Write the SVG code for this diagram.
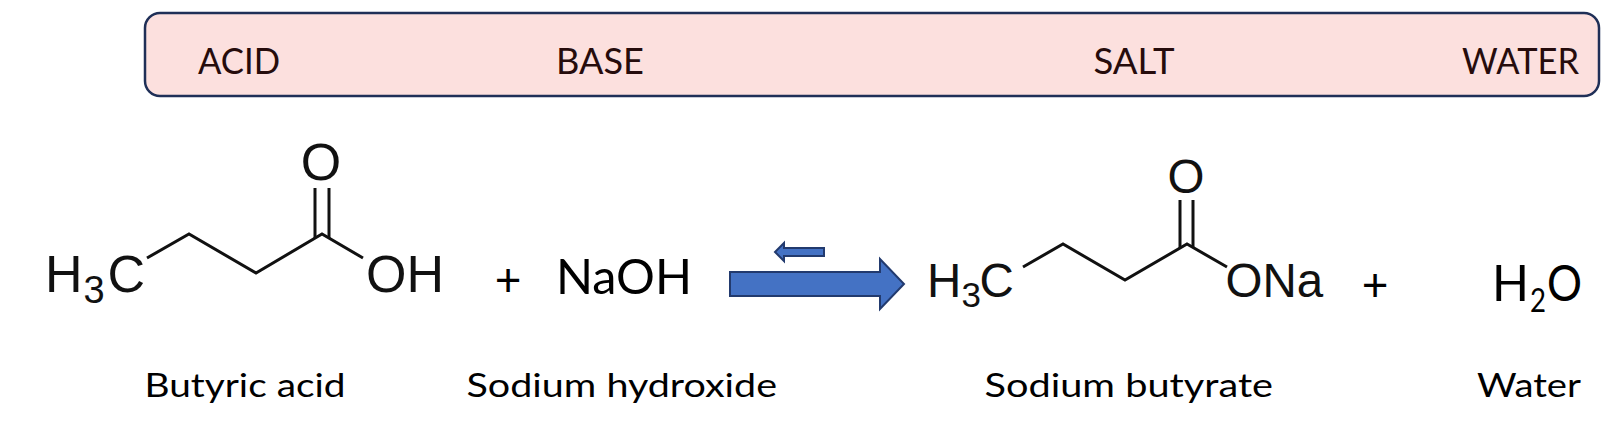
<svg xmlns="http://www.w3.org/2000/svg" width="1610" height="424" viewBox="0 0 1610 424">
  <style>
    .hdr { font-family: Lato, "Open Sans", sans-serif; font-size: 37.5px; fill: #260c0c; }
    .lbl { font-family: Lato, "Open Sans", sans-serif; font-size: 33.5px; fill: #000; }
    .cal { font-family: Lato, "Open Sans", sans-serif; fill: #000; }
    .chem { font-family: "Liberation Sans", Arial, sans-serif; fill: #111; }
    .bond { fill: none; stroke: #111; stroke-width: 3; stroke-linejoin: miter; stroke-linecap: butt; }
    .arrow { fill: #4472C4; stroke: #223a6e; stroke-width: 2; stroke-linejoin: miter; }
  </style>
  <rect width="1610" height="424" fill="#ffffff"/>

  <g id="header">
    <rect x="145" y="13" width="1454" height="83" rx="15" ry="15" fill="#FCE0DE" stroke="#1F2F57" stroke-width="2.5"/>
    <text class="hdr" x="198" y="74" textLength="82" lengthAdjust="spacingAndGlyphs">ACID</text>
    <text class="hdr" x="556" y="74" textLength="88" lengthAdjust="spacingAndGlyphs">BASE</text>
    <text class="hdr" x="1093.5" y="74" textLength="81" lengthAdjust="spacingAndGlyphs">SALT</text>
    <text class="hdr" x="1462" y="74" textLength="117" lengthAdjust="spacingAndGlyphs">WATER</text>
  </g>

  <g id="butyric-acid">
    <polyline class="bond" points="147,258 189,234 256,273 322,234 363,258"/>
    <line class="bond" x1="315" y1="188" x2="315" y2="238"/>
    <line class="bond" x1="329" y1="188" x2="329" y2="238"/>
    <text class="chem" x="45" y="292" font-size="52">H</text>
    <text class="chem" x="83.5" y="303" font-size="38">3</text>
    <text class="chem" x="107.5" y="292" font-size="52">C</text>
    <text class="chem" x="321" y="180" font-size="52" text-anchor="middle">O</text>
    <text class="chem" x="366" y="292" font-size="52">OH</text>
    <text class="lbl" x="144.5" y="397" textLength="201" lengthAdjust="spacingAndGlyphs">Butyric acid</text>
  </g>

  <g id="plus-1">
    <text class="cal" x="508" y="296" font-size="46" text-anchor="middle">+</text>
  </g>

  <g id="sodium-hydroxide">
    <text class="cal" x="556" y="294" font-size="49" textLength="136" lengthAdjust="spacingAndGlyphs">NaOH</text>
    <text class="lbl" x="466.5" y="397" textLength="310.5" lengthAdjust="spacingAndGlyphs">Sodium hydroxide</text>
  </g>

  <g id="connectors">
    <polygon class="arrow" points="730,272 880,272 880,259 904,284 880,309 880,296 730,296"/>
    <polygon class="arrow" points="824,248 784,248 784,243 775,252 784,261 784,256 824,256" stroke-width="1.6"/>
  </g>

  <g id="sodium-butyrate">
    <polyline class="bond" points="1023,267 1063,244 1125,280 1187,244 1227,267"/>
    <line class="bond" x1="1180" y1="200" x2="1180" y2="248"/>
    <line class="bond" x1="1193" y1="200" x2="1193" y2="248"/>
    <text class="chem" x="927" y="297" font-size="47.5">H</text>
    <text class="chem" x="961.5" y="307" font-size="35">3</text>
    <text class="chem" x="979.5" y="297" font-size="47.5">C</text>
    <text class="chem" x="1186" y="193" font-size="47.5" text-anchor="middle">O</text>
    <text class="chem" x="1225.5" y="297" font-size="47.5">ONa</text>
    <text class="lbl" x="984.5" y="397" textLength="288.5" lengthAdjust="spacingAndGlyphs">Sodium butyrate</text>
  </g>

  <g id="plus-2">
    <text class="cal" x="1375" y="301" font-size="46" text-anchor="middle">+</text>
  </g>

  <g id="water">
    <text class="cal" x="1492" y="301" font-size="51" textLength="37" lengthAdjust="spacingAndGlyphs">H</text>
    <text class="cal" x="1530" y="312" font-size="32" textLength="16" lengthAdjust="spacingAndGlyphs">2</text>
    <text class="cal" x="1547" y="301" font-size="51" textLength="35" lengthAdjust="spacingAndGlyphs">O</text>
    <text class="lbl" x="1477" y="397" textLength="104" lengthAdjust="spacingAndGlyphs">Water</text>
  </g>
</svg>
